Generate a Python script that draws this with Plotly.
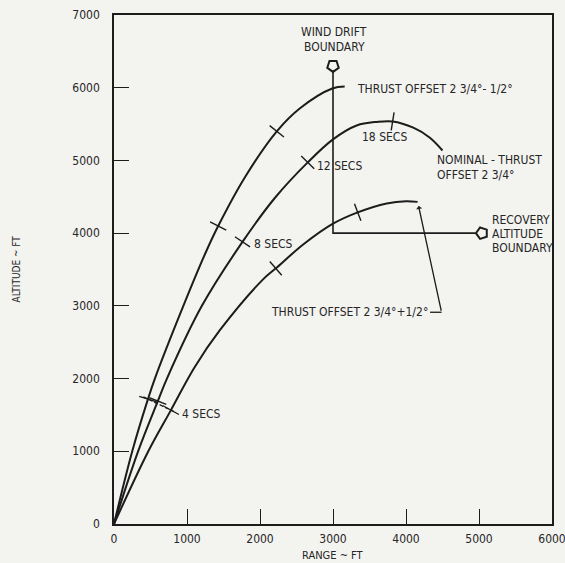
import math
import plotly.graph_objects as go

# ---------------- data (feet) ----------------
# Thrust offset 2 3/4 - 1/2 deg (upper curve)
upper_x = [0, 250, 465, 560, 950, 1250, 1427, 1800, 2230, 2544, 2990, 3160]
upper_y = [0, 1000, 1717, 2000, 3000, 3720, 4098, 4780, 5400, 5714, 5989, 6016]
upper_tick_x = [465, 1427, 2230]          # 4, 8, 12 s

# Nominal - thrust offset 2 3/4 deg (middle curve)
nom_x = [0, 330, 600, 725, 1204, 1760, 2200, 2654, 3000, 3324, 3600, 3817, 4100, 4323, 4500]
nom_y = [0, 1000, 1690, 2000, 3000, 3880, 4480, 4973, 5290, 5481, 5530, 5536, 5450, 5316, 5137]
nom_tick_x = [600, 1760, 2654, 3817]      # 4, 8, 12, 18 s

# Thrust offset 2 3/4 + 1/2 deg (lower curve)
low_x = [0, 470, 780, 1100, 1450, 2052, 2216, 2600, 3000, 3338, 3735, 4000, 4159]
low_y = [0, 1000, 1566, 2150, 2665, 3375, 3516, 3850, 4130, 4286, 4409, 4440, 4430]
low_tick_x = [780, 2216, 3338]            # 4, 8, 12 s

# boundaries
wind_drift_x = 3000
wind_drift_top = 6240
wind_marker_y = 6300
recovery_alt = 4000
recovery_end_x = 4950
recovery_marker_x = 5040

# leader for lower-curve label
leader_x = [4330, 4487]
leader_y = [2912, 2912]
leader_tip = (4172, 4375)

x_ticks = [0, 1000, 2000, 3000, 4000, 5000, 6000]
y_ticks = [0, 1000, 2000, 3000, 4000, 5000, 6000, 7000]

INK = "#1c1c1c"
TXT = "#262626"
BG = "#f3f3f0"
FONT = "DejaVu Sans Condensed, Liberation Sans Narrow, Arial Narrow, sans-serif"


def tick_angles(xs, ys, txs):
    out_x, out_y, ang = [], [], []
    for tx in txs:
        i = xs.index(tx)
        j0, j1 = max(i - 1, 0), min(i + 1, len(xs) - 1)
        dx = xs[j1] - xs[j0]
        dy = ys[j1] - ys[j0]
        th = math.degrees(math.atan2(dy, dx))
        out_x.append(xs[i]); out_y.append(ys[i]); ang.append(-th)
    return out_x, out_y, ang


fig = go.Figure()
for xs, ys in [(upper_x, upper_y), (nom_x, nom_y), (low_x, low_y)]:
    fig.add_trace(go.Scatter(x=xs, y=ys, mode="lines",
                             line=dict(color=INK, width=2, shape="spline", smoothing=1.0),
                             hoverinfo="skip", showlegend=False))

for xs, ys, txs in [(upper_x, upper_y, upper_tick_x), (nom_x, nom_y, nom_tick_x), (low_x, low_y, low_tick_x)]:
    tx, ty, ang = tick_angles(xs, ys, txs)
    fig.add_trace(go.Scatter(x=tx, y=ty, mode="markers",
                             marker=dict(symbol="line-ns", size=13, angle=ang, color=INK,
                                         line=dict(color=INK, width=1.4)),
                             hoverinfo="skip", showlegend=False))

# 4 s dashed connector
p0 = (upper_tick_x[0], upper_y[upper_x.index(upper_tick_x[0])])
p1 = (low_tick_x[0], low_y[low_x.index(low_tick_x[0])])
ext = 0.2
dx, dy = p1[0] - p0[0], p1[1] - p0[1]
fig.add_trace(go.Scatter(x=[p0[0] - ext * dx, p1[0] + ext * dx],
                         y=[p0[1] - ext * dy, p1[1] + ext * dy], mode="lines",
                         line=dict(color=INK, width=1.3, dash="4px,2px"),
                         hoverinfo="skip", showlegend=False))

# boundaries
fig.add_trace(go.Scatter(x=[wind_drift_x, wind_drift_x, recovery_end_x],
                         y=[wind_drift_top, recovery_alt, recovery_alt], mode="lines",
                         line=dict(color=INK, width=1.6), hoverinfo="skip", showlegend=False))
fig.add_trace(go.Scatter(x=[wind_drift_x], y=[wind_marker_y], mode="markers",
                         marker=dict(symbol="pentagon-open", size=12, angle=180, color=INK,
                                     line=dict(color=INK, width=2)),
                         hoverinfo="skip", showlegend=False))
fig.add_trace(go.Scatter(x=[recovery_marker_x], y=[recovery_alt], mode="markers",
                         marker=dict(symbol="pentagon-open", size=12, angle=270, color=INK,
                                     line=dict(color=INK, width=2)),
                         hoverinfo="skip", showlegend=False))
fig.add_trace(go.Scatter(x=leader_x, y=leader_y, mode="lines",
                         line=dict(color=INK, width=1.3), hoverinfo="skip", showlegend=False))

ann = []
def txt(x, y, s, xa="left", size=12):
    ann.append(dict(x=x, y=y, xref="x", yref="y", text=s, showarrow=False,
                    xanchor=xa, yanchor="middle", font=dict(family=FONT, size=size, color=TXT)))

txt(3020, 6770, "WIND DRIFT", "center")
txt(3020, 6560, "BOUNDARY", "center")
txt(3297, 5989, "THRUST OFFSET 2 3/4°- 1/2°")
txt(3707, 5316, "18 SECS", "center")
txt(2750, 4918, "12 SECS")
txt(4391, 5010, "NOMINAL - THRUST")
txt(4391, 4805, "OFFSET 2 3/4°")
txt(1888, 3846, "8 SECS")
txt(5144, 4175, "RECOVERY")
txt(5144, 3985, "ALTITUDE")
txt(5144, 3795, "BOUNDARY")
txt(2120, 2919, "THRUST OFFSET 2 3/4°+1/2°")
txt(903, 1511, "4 SECS")
ann.append(dict(x=leader_tip[0], y=leader_tip[1], ax=leader_x[1], ay=leader_y[1],
                xref="x", yref="y", axref="x", ayref="y", text="", showarrow=True,
                arrowhead=1, arrowsize=0.8, arrowwidth=1.3, arrowcolor=INK))
# axis titles
ann.append(dict(x=0.5, y=-0.0, xref="paper", yref="paper", yshift=-31, text="RANGE ~ FT",
                showarrow=False, xanchor="center", yanchor="middle",
                font=dict(family=FONT, size=11, color=TXT)))
ann.append(dict(x=0, y=0.5, xref="paper", yref="paper", xshift=-98, text="ALTITUDE ~ FT",
                textangle=-90, showarrow=False, xanchor="center", yanchor="middle",
                font=dict(family=FONT, size=10, color=TXT)))

axis_common = dict(showline=True, linecolor=INK, linewidth=1.6, mirror=True,
                   ticks="inside", ticklen=15, tickwidth=1.4, tickcolor=INK,
                   showgrid=False, zeroline=False, automargin=False,
                   ticklabeloverflow="allow",
                   tickfont=dict(family=FONT, size=12, color=TXT))

fig.update_layout(
    width=565, height=563,
    margin=dict(l=114, r=13, t=15, b=39),
    paper_bgcolor=BG, plot_bgcolor=BG,
    annotations=ann,
    xaxis=dict(range=[0, 6000], tickvals=x_ticks, ticktext=[str(v) for v in x_ticks],
               ticklabelstandoff=3, **axis_common),
    yaxis=dict(range=[0, 7000], tickvals=y_ticks, ticktext=[str(v) for v in y_ticks],
               ticklabelstandoff=10, **axis_common),
)
fig.write_html("out.html", config={"displayModeBar": False},
               post_script="document.body.style.margin='0';document.body.style.background='%s';" % BG)
